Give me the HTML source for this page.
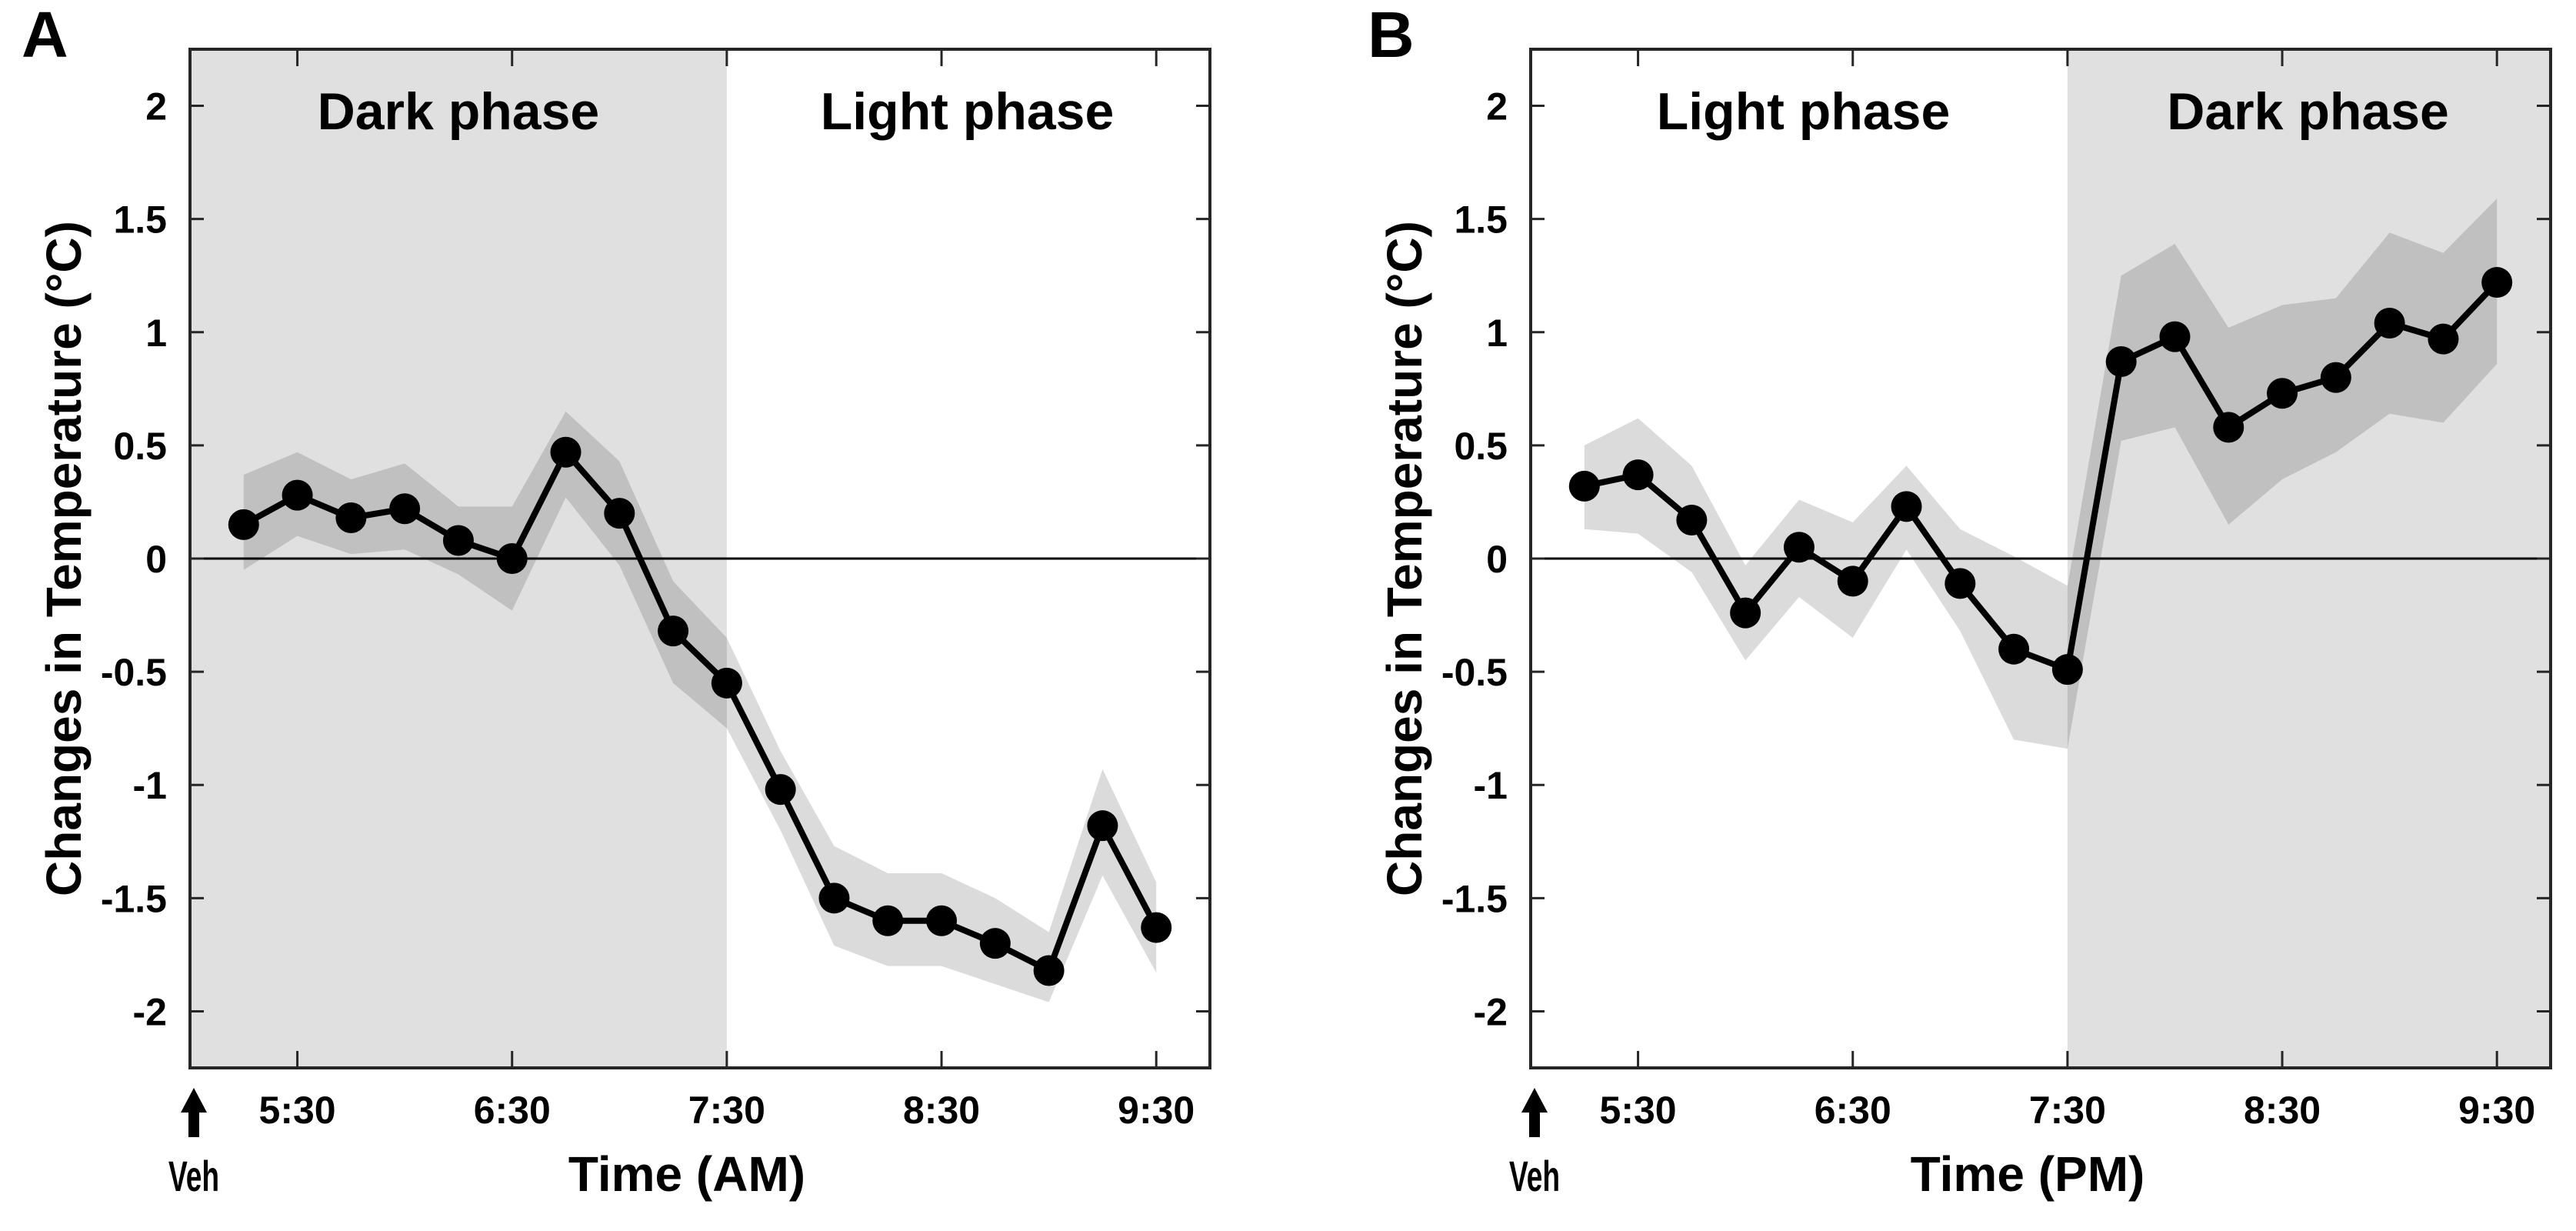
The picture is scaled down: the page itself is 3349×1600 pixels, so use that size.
<!DOCTYPE html>
<html><head><meta charset="utf-8"><style>
html,body{margin:0;padding:0;background:#fff}
svg{display:block}
text{font-family:"Liberation Sans",Arial,sans-serif;font-weight:bold;fill:#000}
</style></head><body>
<svg id="fig" width="3349" height="1600" viewBox="0 0 3349 1600" xmlns="http://www.w3.org/2000/svg"></svg>
<script>
const times = [5.25,5.5,5.75,6,6.25,6.5,6.75,7,7.25,7.5,7.75,8,8.25,8.5,8.75,9,9.25,9.5];
const xTicks = [5.5,6.5,7.5,8.5,9.5];
const xTickLabels = ["5:30","6:30","7:30","8:30","9:30"];
const yTicks = [-2,-1.5,-1,-0.5,0,0.5,1,1.5,2];
const yTickLabels = ["-2","-1.5","-1","-0.5","0","0.5","1","1.5","2"];
const meanA = [0.15,0.28,0.18,0.22,0.08,0.0,0.47,0.2,-0.32,-0.55,-1.02,-1.5,-1.6,-1.6,-1.7,-1.82,-1.18,-1.63];
const upperA = [0.37,0.47,0.35,0.42,0.23,0.23,0.65,0.43,-0.1,-0.35,-0.85,-1.27,-1.39,-1.39,-1.5,-1.65,-0.93,-1.43];
const lowerA = [-0.05,0.1,0.02,0.04,-0.07,-0.23,0.27,-0.03,-0.55,-0.75,-1.2,-1.71,-1.8,-1.8,-1.88,-1.96,-1.4,-1.83];
const meanB = [0.32,0.37,0.17,-0.24,0.05,-0.1,0.23,-0.11,-0.4,-0.49,0.87,0.98,0.58,0.73,0.8,1.04,0.97,1.22];
const upperB = [0.5,0.62,0.41,-0.03,0.26,0.16,0.41,0.13,0.01,-0.12,1.25,1.39,1.02,1.12,1.15,1.44,1.35,1.59];
const lowerB = [0.13,0.11,-0.06,-0.45,-0.17,-0.35,0.04,-0.32,-0.8,-0.84,0.52,0.58,0.15,0.35,0.47,0.64,0.6,0.86];

const NS="http://www.w3.org/2000/svg";
const svg=document.getElementById('fig');
function mk(tag,attrs,parent){const e=document.createElementNS(NS,tag);for(const k in attrs)e.setAttribute(k,attrs[k]);(parent||svg).appendChild(e);return e;}

function panel(cfg){
  const L=cfg.left,R=cfg.left+1326,T=64,B=1388;
  const xMin=5,xMax=9.75,yMin=-2.25,yMax=2.25;
  const X=v=>L+(v-xMin)/(xMax-xMin)*(R-L);
  const Y=v=>B-(v-yMin)/(yMax-yMin)*(B-T);
  const g=mk('g',{});
  
  
  const d0=cfg.darkFrom, d1=cfg.darkTo;
  const sh=mk('rect',{x:X(d0),y:T,width:X(d1)-X(d0),height:B-T,fill:'#e0e0e0'},g);
  
  
  let pts=times.map((t,i)=>X(t)+','+Y(cfg.upper[i]));
  pts=pts.concat(times.map((t,i)=>X(t)+','+Y(cfg.lower[i])).reverse());
  const band=mk('polygon',{points:pts.join(' '),fill:'rgba(0,0,0,0.14)'},g);
  
  
  const zl=mk('line',{x1:L,x2:R,y1:Y(0),y2:Y(0),stroke:'#000','stroke-width':3},g);
  
  
  const ml=mk('polyline',{points:times.map((t,i)=>X(t)+','+Y(cfg.mean[i])).join(' '),fill:'none',stroke:'#000','stroke-width':8,'stroke-linejoin':'round'},g);
  
  
  times.forEach((t,i)=>{
    const c=mk('circle',{cx:X(t),cy:Y(cfg.mean[i]),r:20,fill:'#000'},g);
    
    
  });
  const box=mk('rect',{x:L,y:T,width:R-L,height:B-T,fill:'none',stroke:'#262626','stroke-width':4},g);
  
  
  yTicks.forEach((v,i)=>{
    mk('line',{x1:L,x2:L+18,y1:Y(v),y2:Y(v),stroke:'#262626','stroke-width':3},g);
    mk('line',{x1:R,x2:R-18,y1:Y(v),y2:Y(v),stroke:'#262626','stroke-width':3},g);
    const tl=mk('text',{x:L-30,y:Y(v)+18,'text-anchor':'end','font-size':50},g);
    tl.textContent=yTickLabels[i];
    
    
  });
  xTicks.forEach((v,i)=>{
    mk('line',{x1:X(v),x2:X(v),y1:B,y2:B-22,stroke:'#262626','stroke-width':3},g);
    mk('line',{x1:X(v),x2:X(v),y1:T,y2:T+22,stroke:'#262626','stroke-width':3},g);
    const tl=mk('text',{x:X(v),y:1460,'text-anchor':'middle','font-size':50},g);
    tl.textContent=xTickLabels[i];
    
    
  });
  cfg.phases.forEach(p=>{
    const pt=mk('text',{x:X(p.c),y:168,'text-anchor':'middle','font-size':68},g);
    pt.textContent=p.t;
    
    
  });
  const yl=mk('text',{x:0,y:0,'text-anchor':'middle','font-size':64,transform:`translate(${L-142},${(T+B)/2}) rotate(-90)`},g);
  yl.textContent='Changes in Temperature (°C)';
  
  
  const xl=mk('text',{x:(L+R)/2-17,y:1548,'text-anchor':'middle','font-size':64},g);
  xl.textContent=cfg.xlabel;
  
  
  const ax=L+5;
  const ar=mk('polygon',{points:`${ax},1414 ${ax-17},1446 ${ax-7},1446 ${ax-7},1478 ${ax+7},1478 ${ax+7},1446 ${ax+17},1446`,fill:'#000'},g);
  
  
  const vt=mk('text',{x:ax,y:1548,'text-anchor':'middle','font-size':56,'textLength':66,'lengthAdjust':'spacingAndGlyphs'},g);
  vt.textContent='Veh';
  
  
  const lt=mk('text',{x:cfg.letterX,y:74,'font-size':84},g);
  lt.textContent=cfg.letter;
  
  
}
panel({name:'panel-a',left:247,darkFrom:5,darkTo:7.5,mean:meanA,upper:upperA,lower:lowerA,xlabel:'Time (AM)',letter:'A',letterX:28,
  phases:[{c:6.25,t:'Dark phase',n:'dark-phase-label'},{c:8.62,t:'Light phase',n:'light-phase-label'}]});
panel({name:'panel-b',left:1990,darkFrom:7.5,darkTo:9.75,mean:meanB,upper:upperB,lower:lowerB,xlabel:'Time (PM)',letter:'B',letterX:1778,
  phases:[{c:6.27,t:'Light phase',n:'light-phase-label'},{c:8.62,t:'Dark phase',n:'dark-phase-label'}]});
</script>
</body></html>
